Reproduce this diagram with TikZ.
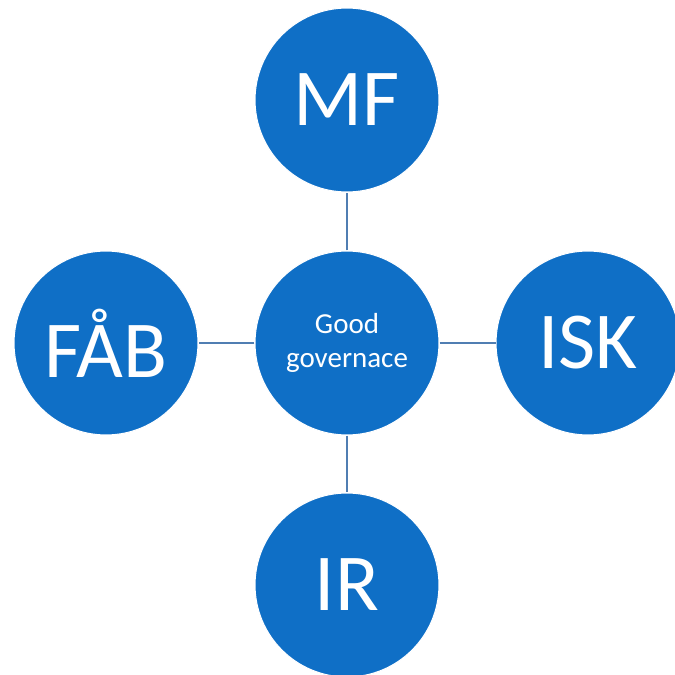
\documentclass[tikz,border=0pt]{standalone}
\usepackage{fontspec}
\setmainfont{Carlito}
\definecolor{blue1}{RGB}{15, 111, 198}
\definecolor{link1}{RGB}{80, 126, 178}
\usetikzlibrary{positioning}

\tikzset{
  topic/.style={circle, fill=blue1, draw=white, line width=0.6pt, minimum size=3.68cm, inner sep=0pt, text=white, font=\fontsize{46}{50}\selectfont},
  hub/.style={topic, align=center, font=\fontsize{16.5}{19.6}\selectfont},
  link/.style={draw=link1, line width=1.1pt}
}

\begin{document}
\begin{tikzpicture}[x=0.02cm, y=-0.02cm]
  \useasboundingbox (0,0) rectangle (675,675);
  \fill[white] (0,0) rectangle (675,675);

  \node[hub] (gg) at (347,343) {Good\\governace};
  \node[topic] (mf)  at (347,100) {MF};
  \node[topic] (fab) at (106,343) {FÅB};
  \node[topic] (isk) at (588,343) {ISK};
  \node[topic] (ir)  at (347,585) {IR};

  % spokes from the hub
  \draw[link] (gg) -- (mf);
  \draw[link] (gg) -- (fab);
  \draw[link] (gg) -- (isk);
  \draw[link] (gg) -- (ir);
\end{tikzpicture}
\end{document}
